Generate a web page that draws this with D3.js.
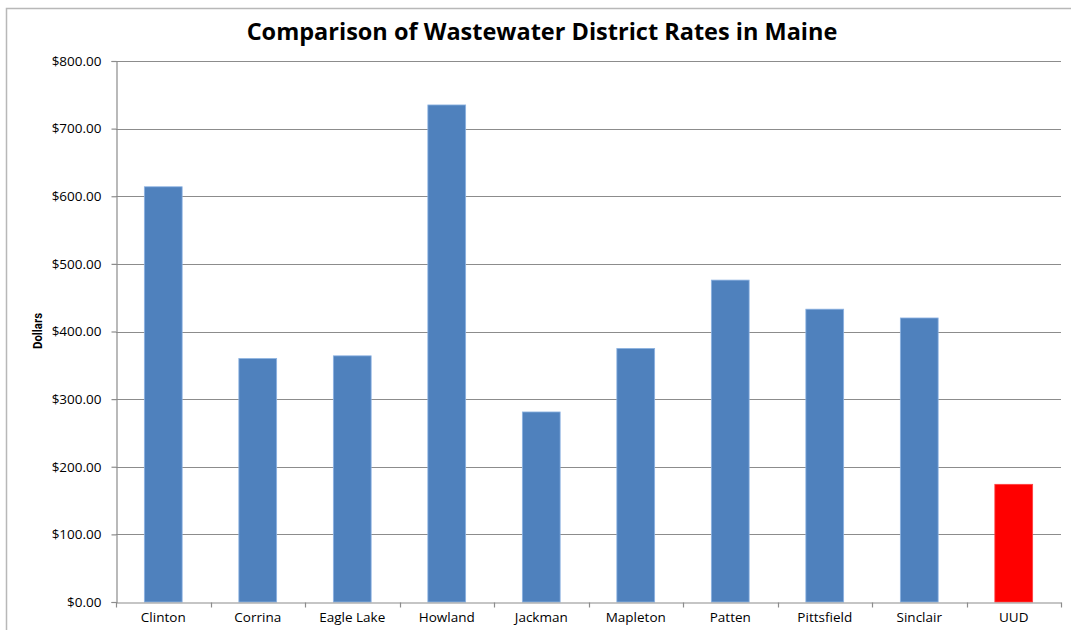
<!DOCTYPE html>
<html><head><meta charset="utf-8">
<script src="https://cdn.jsdelivr.net/npm/d3@7"></script>
<style>body{margin:0;background:#fff;} svg{display:block;}</style>
</head><body>
<script>
const categories = ["Clinton","Corrina","Eagle Lake","Howland","Jackman","Mapleton","Patten","Pittsfield","Sinclair","UUD"];
const values = [614, 360, 364, 735, 281, 375, 476, 433, 420, 174];
const highlight = ["UUD"];
const yTicks = [0,100,200,300,400,500,600,700,800];
const title = "Comparison of Wastewater District Rates in Maine";
const yLabel = "Dollars";

const W = 1071, H = 630;
const m = {left:116, right:1071-1061, top:61, bottom:630-602};
const svg = d3.select("body").append("svg").attr("width",W).attr("height",H);
const font = "Open Sans, Liberation Sans, sans-serif";

svg.append("rect").attr("x",6.5).attr("y",8.5).attr("width",1070).attr("height",640)
  .attr("fill","none").attr("stroke","#b8b8b8").attr("stroke-width",1.5);

const x = d3.scaleBand().domain(categories).range([m.left, W-m.right]).paddingInner(0.6).paddingOuter(0.3);
const xb = d3.scaleBand().domain(categories).range([m.left, W-m.right]);
const y = d3.scaleLinear().domain([0,800]).range([H-m.bottom, m.top]);

// gridlines
svg.append("g").selectAll("line").data(yTicks.filter(d=>d>0)).join("line")
  .attr("x1",m.left).attr("x2",W-m.right)
  .attr("y1",d=>Math.round(y(d))+0.5).attr("y2",d=>Math.round(y(d))+0.5)
  .attr("stroke","#8c8c8c").attr("stroke-width",1.2);

// bars
svg.append("g").selectAll("rect").data(categories).join("rect")
  .attr("x",d=>x(d)).attr("width",x.bandwidth())
  .attr("y",(d,i)=>y(values[i])).attr("height",(d,i)=>y(0)-y(values[i]))
  .attr("fill",d=>highlight.includes(d)?"#ff0000":"#4f81bd")
  .attr("stroke",d=>highlight.includes(d)?"#ff4040":"#8db3e2").attr("stroke-width",0.8);

// y axis
const ya = svg.append("g").attr("transform",`translate(${m.left+0.5},0)`)
  .call(d3.axisLeft(y).tickValues(yTicks).tickSize(5).tickPadding(10).tickFormat(d=>"$"+d3.format(".2f")(d)));
ya.select(".domain").attr("stroke","#8c8c8c").attr("stroke-width",1.2);
ya.selectAll(".tick line").attr("stroke","#8c8c8c").attr("stroke-width",1.2);
ya.selectAll(".tick text").attr("font-family",font).attr("font-size",13.5).attr("fill","#000");

// x axis
const xa = svg.append("g").attr("transform",`translate(0,${Math.round(y(0))+0.5})`)
  .call(d3.axisBottom(xb).tickSize(0).tickPadding(10));
xa.select(".domain").attr("stroke","#8c8c8c").attr("stroke-width",1.2);
xa.selectAll(".tick text").attr("font-family",font).attr("font-size",13.5).attr("fill","#000");
xa.selectAll(".sep").data(categories.concat([null])).join("line").attr("class","sep")
  .attr("x1",(d,i)=>Math.round(m.left + i*xb.step())+0.5).attr("x2",(d,i)=>Math.round(m.left + i*xb.step())+0.5)
  .attr("y1",0).attr("y2",5).attr("stroke","#8c8c8c").attr("stroke-width",1.2);

// title
svg.append("text").attr("x",542).attr("y",40).attr("text-anchor","middle")
  .attr("font-family",font).attr("font-weight","bold").attr("font-size",23.5).attr("fill","#000").text(title);

// y label
svg.append("text").attr("transform","translate(41.5,331) rotate(-90)").attr("text-anchor","middle")
  .attr("font-family","Liberation Sans Narrow, Roboto, sans-serif").attr("font-weight","bold").attr("font-size",13)
  .attr("textLength",36).attr("lengthAdjust","spacingAndGlyphs").attr("fill","#000").text(yLabel);
</script>
</body></html>
